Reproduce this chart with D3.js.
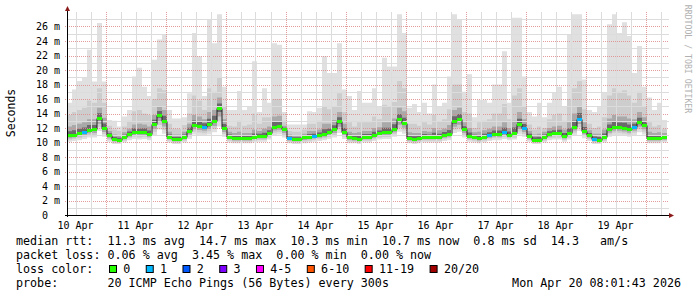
<!DOCTYPE html>
<html><head><meta charset="utf-8">
<script src="https://cdn.jsdelivr.net/npm/d3@7"></script>
<style>
body{margin:0;background:#fff}
svg{display:block}
text{font-family:"DejaVu Sans Mono",monospace;white-space:pre}
</style>
</head><body>
<svg id="c" width="697" height="297"></svg>
<script>
// ---- data (2-hour steps, ms) ----
const median=[11.0,11.1,11.3,11.5,11.75,11.8,13.4,12.0,11.0,10.5,10.4,10.8,11.2,11.5,11.4,11.5,11.2,12.6,13.8,13.0,10.8,10.5,10.5,10.8,
11.6,12.4,12.3,12.2,12.5,13.0,14.7,12.0,10.8,10.6,10.6,10.6,10.6,10.8,10.9,10.9,11.3,12.2,12.3,11.8,10.6,10.5,10.5,10.7,
10.8,10.9,11.05,11.2,11.4,11.8,12.9,11.5,10.7,10.6,10.5,10.8,10.8,11.05,11.3,11.4,11.4,11.9,13.2,12.7,10.6,10.5,10.6,10.8,
10.8,10.8,10.8,11.05,11.2,12.9,13.2,11.8,10.9,10.8,10.6,10.8,11.0,11.2,11.2,11.4,11.1,11.3,12.5,12.0,10.9,10.4,10.4,10.8,
11.2,11.3,11.3,10.9,11.3,12.2,13.3,11.6,11.0,10.5,10.4,10.8,11.8,12.1,12.1,12.0,11.8,12.1,12.8,12.4,10.6,10.6,10.6,10.7];
const smokeMax=[15.5,17.3,18.5,19.0,22.8,18.4,26.5,18.4,13.1,13.0,12.2,13.6,14.5,19.1,20.3,17.7,16.4,21.4,24.2,24.9,14.5,13.3,13.3,13.5,
16.8,25.1,21.9,16.4,27.0,23.7,27.7,17.7,14.5,14.5,17.1,14.5,14.9,21.2,14.2,17.5,15.5,23.7,23.5,14.2,12.5,12.5,12.5,12.5,
14.3,14.2,14.8,21.9,19.6,19.6,23.7,17.3,16.4,14.5,17.1,15.5,15.5,17.5,15.0,21.7,20.5,20.5,27.7,25.1,14.8,15.3,14.2,15.5,
14.0,18.0,15.0,15.5,19.1,27.7,27.0,17.0,19.4,13.5,15.9,15.9,15.5,18.0,18.0,22.6,15.5,27.2,27.2,19.1,14.2,13.6,15.5,13.5,
15.5,16.9,17.7,15.0,24.9,27.7,27.7,18.7,14.5,14.2,15.0,16.9,26.3,27.7,25.1,26.6,24.7,19.6,23.3,17.7,16.2,14.5,15.5,13.1];
const smokeUpper2=[13.8,14.2,14.5,14.8,15.8,15.5,17.5,15.5,12.3,11.8,11.6,12.2,13.0,14.3,14.5,14.0,13.8,16.0,17.5,17.2,12.6,11.9,11.9,12.4,
14.0,16.5,15.8,14.5,17.5,17.0,19.0,15.0,12.3,12.2,13.0,12.3,12.5,14.0,12.6,13.5,13.5,16.0,16.0,13.0,11.6,11.5,11.5,11.8,
12.6,12.6,13.0,15.0,14.6,15.0,16.8,14.2,12.8,12.2,12.8,12.8,12.8,13.6,13.2,15.2,15.0,15.6,18.5,17.5,12.6,12.6,12.3,12.8,
12.5,13.8,12.9,13.2,14.6,18.0,18.0,14.2,14.0,12.0,12.8,13.0,13.2,14.0,14.0,15.3,13.2,16.5,17.5,15.0,12.5,11.8,12.2,12.0,
13.2,13.8,14.0,13.0,16.0,17.5,18.5,14.6,12.6,12.0,12.2,13.5,16.5,17.5,17.0,17.2,16.5,15.5,17.0,15.0,12.8,12.2,12.4,11.9];
const smokeUpper1=[12.2,12.4,12.6,12.8,13.2,13.2,14.8,13.4,11.6,11.1,11.0,11.4,11.9,12.5,12.6,12.5,12.2,13.8,15.0,14.5,11.5,11.1,11.1,11.5,
12.6,13.8,13.6,13.2,14.2,14.5,16.2,13.2,11.5,11.3,11.5,11.3,11.3,11.8,11.6,11.9,12.2,13.6,13.7,12.3,11.1,11.0,11.0,11.2,
11.6,11.6,11.8,12.6,12.6,13.1,14.2,12.6,11.5,11.3,11.4,11.6,11.6,12.0,12.1,12.8,12.8,13.3,14.8,14.3,11.4,11.3,11.3,11.6,
11.5,12.0,11.7,11.9,12.4,14.5,14.8,12.8,12.0,11.4,11.5,11.7,11.9,12.2,12.2,12.8,12.0,13.0,14.2,13.2,11.6,11.1,11.2,11.5,
12.0,12.2,12.3,11.8,12.8,14.0,15.0,12.8,11.7,11.2,11.2,11.8,13.3,13.8,13.6,13.6,13.3,13.2,14.2,13.5,11.5,11.3,11.4,11.3];
const smokeLow=[10.1,10.2,10.3,10.5,10.7,10.7,11.6,10.8,10.1,9.8,9.8,10.0,10.3,10.5,10.4,10.5,10.3,11.0,11.8,11.2,10.0,9.8,9.8,10.0,
10.5,11.1,11.0,10.9,11.1,11.4,12.2,10.8,10.0,9.9,9.9,9.9,9.9,10.0,10.1,10.1,10.4,11.0,11.1,10.7,9.9,9.8,9.8,9.9,
10.0,10.1,10.2,10.3,10.5,10.7,11.3,10.5,9.9,9.9,9.8,10.0,10.0,10.2,10.4,10.5,10.5,10.8,11.5,11.2,9.9,9.8,9.9,10.0,
10.0,10.0,10.0,10.2,10.3,11.3,11.5,10.7,10.1,10.0,9.9,10.0,10.2,10.3,10.3,10.5,10.3,10.4,11.1,10.8,10.1,9.8,9.8,10.0,
10.3,10.4,10.4,10.1,10.4,11.0,11.6,10.6,10.2,9.8,9.8,10.0,10.8,11.0,11.0,10.9,10.8,11.0,11.4,11.1,9.9,9.9,9.9,10.0];
// steps that lost one ping (loss color "1")
const lossOneSteps=[3,27,44,49,84,87,91,102,105,113];
const lossLabels=["0","1","2","3","4-5","6-10","11-19","20/20"];
const lossColors=["#26ff00","#00b8ff","#0059ff","#7e00ff","#ff00ff","#ff5500","#ff0000","#a00000"];
const yTickValues=[0,2,4,6,8,10,12,14,16,18,20,22,24,26];
const dayLabels=["10 Apr","11 Apr","12 Apr","13 Apr","14 Apr","15 Apr","16 Apr","17 Apr","18 Apr","19 Apr"];
const legendLines=[
 "median rtt:  11.3 ms avg  14.7 ms max  10.3 ms min  10.7 ms now  0.8 ms sd  14.3   am/s",
 "packet loss: 0.06 % avg  3.45 % max  0.00 % min  0.00 % now",
 "loss color:",
 "probe:       20 ICMP Echo Pings (56 Bytes) every 300s"];
const stampText="Mon Apr 20 08:01:43 2026";

// ---- layout ----
const HOUR=3600e3;
const t0=Date.UTC(2026,3,10,8,36), t1=t0+240*HOUR;
const L=67,R=667,B=215,T=12;
const svg=d3.select("#c");
const x=d3.scaleUtc().domain([t0,t1]).range([L,R]);
const y=d3.scaleLinear().domain([0,28]).range([B,T]);
const px=v=>Math.round(v)+0.5;

// smoke rows
const rows=median.map((m,i)=>({t:new Date(t0+i*2*HOUR),m,lo:smokeLow[i],u1:smokeUpper1[i],u2:smokeUpper2[i],mx:smokeMax[i],i}));
const rowsExt=rows.concat([Object.assign({},rows[rows.length-1],{t:new Date(t1)})]);
svg.append("clipPath").attr("id","pc").append("rect").attr("x",L).attr("y",T).attr("width",R-L).attr("height",B-T);
const sm=svg.append("g").attr("clip-path","url(#pc)");
const layers=[
 {c:"#e0e0e0",lo:d=>d.lo,hi:d=>d.mx},
 {c:"#cdcdcd",lo:d=>d.lo+0.3*(d.m-d.lo),hi:d=>d.u2},
 {c:"#a9a9a9",lo:d=>d.lo+0.55*(d.m-d.lo),hi:d=>d.u1},
 {c:"#6a6a6a",lo:d=>d.lo+0.8*(d.m-d.lo),hi:d=>d.m+0.45*(d.u1-d.m)}
];
layers.forEach(l=>{
  sm.append("path").datum(rowsExt).attr("fill",l.c)
   .attr("d",d3.area().curve(d3.curveStepAfter).x(d=>x(d.t)).y0(d=>y(l.lo(d))).y1(d=>y(l.hi(d))));
});

// grid (on top of smoke)
const g=svg.append("g");
const minorC="#dcdcdc", majorC="#de8a8a";
for(let v=1;v<=27;v++){
  const major=v%2===0;
  g.append("line").attr("x1",major?L-2:L).attr("x2",R+2).attr("y1",px(y(v))).attr("y2",px(y(v)))
   .attr("stroke",major?majorC:minorC).attr("stroke-opacity",major?0.85:1).attr("stroke-dasharray",major?"1,1":null);
}
d3.utcHour.every(6).range(t0,t1).forEach(d=>{
  const major=d.getUTCHours()===0;
  g.append("line").attr("x1",px(x(d))).attr("x2",px(x(d))).attr("y1",B+(major?2:0)).attr("y2",T)
   .attr("stroke",major?majorC:minorC).attr("stroke-opacity",major?0.85:1).attr("stroke-dasharray",major?"1,1":null);
});

// median
const md=svg.append("g").attr("clip-path","url(#pc)");
md.append("path").datum(rowsExt).attr("fill","none").attr("stroke","#222").attr("stroke-width",1)
  .attr("d",d3.line().curve(d3.curveStepAfter).x(d=>x(d.t)).y(d=>Math.round(y(d.m))+0.5));
md.selectAll("rect.med").data(rows).join("rect").attr("class","med")
  .attr("x",d=>x(d.t)).attr("width",d=>x(new Date(+d.t+2*HOUR))-x(d.t))
  .attr("y",d=>Math.round(y(d.m))-1).attr("height",3)
  .attr("fill",d=>lossOneSteps.includes(d.i)?lossColors[1]:lossColors[0]);

// axes
const ax=svg.append("g");
ax.append("line").attr("x1",L-2).attr("x2",R+3).attr("y1",B+0.5).attr("y2",B+0.5).attr("stroke","#000");
ax.append("line").attr("x1",L+0.5).attr("x2",L+0.5).attr("y1",B+2).attr("y2",T-2).attr("stroke","#000");
ax.append("path").attr("d",`M${R+2},${B-2}L${R+7},${B+0.5}L${R+2},${B+3}Z`).attr("fill","#8b1a1a");
ax.append("path").attr("d",`M${L-2},${T-1}L${L+0.5},${T-6}L${L+3},${T-1}Z`).attr("fill","#8b1a1a");

// y labels
yTickValues.forEach(v=>{
  svg.append("text").attr("x",v===0?48:60).attr("y",y(v)+3.5).attr("text-anchor","end")
   .attr("font-size","10px").attr("fill","#000").text(v===0?"0":v+" m");
});
// x labels
dayLabels.forEach((lab,i)=>{
  const d=Date.UTC(2026,3,10+i,12);
  svg.append("text").attr("x",x(d)).attr("y",229).attr("text-anchor","middle")
   .attr("font-size","10px").attr("fill","#000").text(lab);
});
// axis title
svg.append("text").attr("transform","translate(15,113) rotate(-90)").attr("text-anchor","middle")
  .attr("font-size","11.5px").attr("fill","#000").text("Seconds");
// watermark
svg.append("text").attr("transform","translate(684.5,59) rotate(90)").attr("text-anchor","middle")
  .attr("font-size","8.2px").attr("fill","#b0b0b0").text("RRDTOOL / TOBI OETIKER");

// legend
const FS=11.7, CW=FS*0.602;
legendLines.forEach((s,i)=>{
  svg.append("text").attr("x",16).attr("y",244.5+14*i).attr("font-size",FS+"px").attr("fill","#000").text(s);
});
let bx=109;
lossLabels.forEach((lab,i)=>{
  svg.append("rect").attr("x",bx+0.5).attr("y",265.5).attr("width",7).attr("height",7)
   .attr("fill",lossColors[i]).attr("stroke","#000");
  svg.append("text").attr("x",bx+14.3).attr("y",272.5).attr("font-size",FS+"px").attr("fill","#000").text(lab);
  bx+=14.3+lab.length*CW+15.4;
});
svg.append("text").attr("x",681).attr("y",286.5).attr("text-anchor","end").attr("font-size",FS+"px").attr("fill","#000").text(stampText);
</script>
</body></html>
